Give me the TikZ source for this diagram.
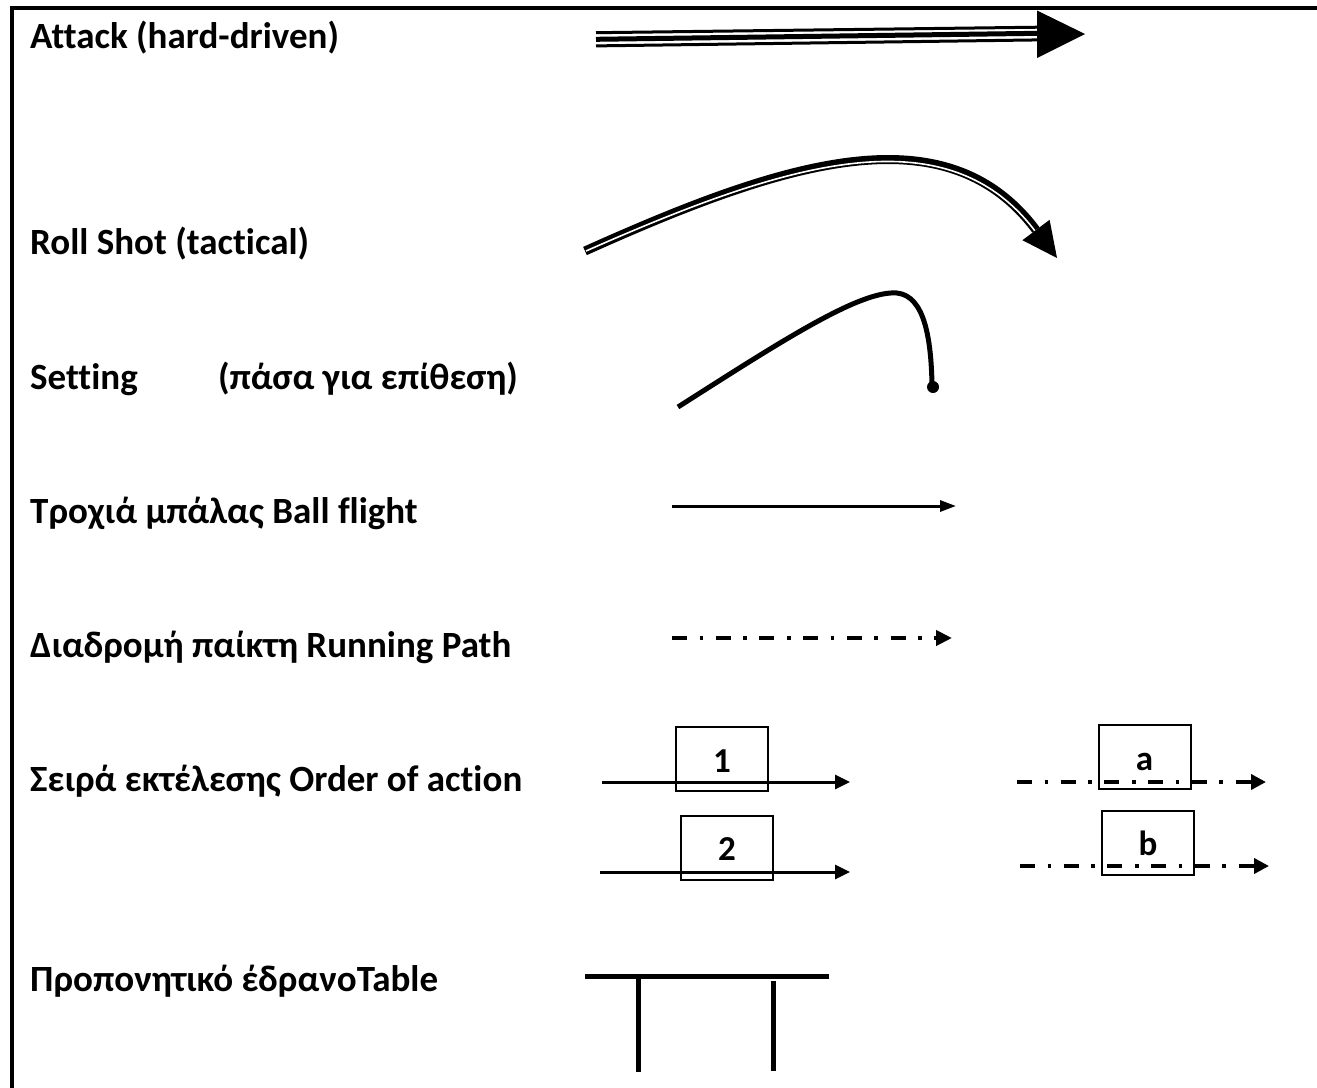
\documentclass[tikz,border=0pt]{standalone}
\usepackage{fontspec}
\setmainfont[RawFeature={-liga}]{Carlito}
\usetikzlibrary{arrows.meta}
\begin{document}
\begin{tikzpicture}[x=1pt,y=-1pt,
  lbl/.style={font=\fontsize{37}{44}\selectfont\bfseries, anchor=base west, inner sep=0pt},
  obox/.style={draw, line width=2pt, minimum width=92pt, minimum height=64pt, inner sep=0pt},
  otxt/.style={font=\fontsize{35}{42}\selectfont\bfseries, anchor=base, inner sep=0pt},
  dd/.style={line width=4pt, dash pattern=on 15pt off 12.5pt on 3.7pt off 12.5pt},
  solid arrow/.style={line width=3pt, -{Triangle[length=15pt,width=14pt]}},
  dd arrow/.style={dd, -{Triangle[length=15pt,width=15pt]}},
]
\useasboundingbox (0,0) rectangle (1317,1087);
% frame
\draw[line width=4pt] (12,1095) -- (12,8) -- (1325,8);

% labels
\node[lbl] (l1) at (30,48) {Attack (hard-driven)};
\node[lbl] (l2) at (30,254) {Roll Shot (tactical)};
\node[lbl] (l3) at (30,389) {Setting};
\node[lbl] (l3b) at (218,389) {(πάσα για επίθεση)};
\node[lbl] (l4) at (30,523) {Τροχιά μπάλας Ball flight};
\node[lbl] (l5) at (30,657) {Διαδρομή παίκτη Running Path};
\node[lbl] (l6) at (30,791) {Σειρά εκτέλεσης Order of action};
\node[lbl] (l7) at (30,991) {Προπονητικό έδρανοTable};

% Attack (hard-driven): triple line with big head
\coordinate (a0) at (596,39.3);
\coordinate (a1) at (1039,33.3);
\draw[line width=3pt] ([yshift=6.6pt]a0) -- ([yshift=6.1pt]a1);
\draw[line width=5pt] (a0) -- (a1);
\draw[line width=3pt] ([yshift=-6.6pt]a0) -- ([yshift=-6.6pt]a1);
\fill (1037,10.5) -- (1085,34) -- (1037,58) -- cycle;

% Roll shot
\coordinate (r0) at (585,251);
\coordinate (r1) at (1036,230);
\draw[line width=9pt] (r0) .. controls (785,161) and (946,110) .. (r1);
\draw[white, line width=1.6pt, yshift=-2.4pt, xshift=-0.6pt] ([xshift=1pt]r0) .. controls (785,161) and (946,110) .. ([xshift=-1pt,yshift=-1pt]r1);
\fill (1057,258) -- (1049.6,219.8) -- (1022.4,240.2) -- cycle;

% Setting
\coordinate (s0) at (678,407);
\coordinate (s1) at (897,293);
\coordinate (s2) at (932,384);
\draw[line width=5pt] (s0) .. controls (780,342) and (860,290) .. (s1) .. controls (925,296) and (931,340) .. (s2);
\fill (933,387) circle (6pt);

% Ball flight
\coordinate (b0) at (672,506);
\coordinate (b1) at (956,506);
\draw[line width=3pt, -{Triangle[length=16pt,width=11pt]}] (b0) -- (b1);

% Running path
\coordinate (p0) at (672,638);
\coordinate (p1) at (952,638);
\draw[dd, -{Triangle[length=16pt,width=15pt]}] (p0) -- (p1);

% Order of action
\node[obox] (n1) at (722,759) {};
\node[obox] (n2) at (727,848) {};
\node[obox] (na) at (1144.5,757) {};
\node[obox] (nb) at (1148,843) {};
\node[otxt] (t1) at (722,772) {1};
\node[otxt] (t2) at (727,860) {2};
\node[otxt] (ta) at (1144.5,770) {a};
\node[otxt] (tb) at (1148,855) {b};
\coordinate (o1s) at (602,782);
\coordinate (o1e) at (850,782);
\coordinate (o2s) at (600,872);
\coordinate (o2e) at (850,872);
\draw[solid arrow] (o1s) -- (o1e);
\draw[solid arrow] (o2s) -- (o2e);
\coordinate (oas) at (1017,782);
\coordinate (oae) at (1266,782);
\coordinate (obs) at (1020,866);
\coordinate (obe) at (1269,866);
\draw[dd arrow] (oas) -- (oae);
\draw[dd arrow] (obs) -- (obe);

% Table
\coordinate (tt0) at (585,976);
\coordinate (tt1) at (829,976);
\coordinate (tl0) at (638,976);
\coordinate (tl1) at (638,1072);
\coordinate (tr0) at (773,981);
\coordinate (tr1) at (773,1071);
\draw[line width=5pt] (tt0) -- (tt1);
\draw[line width=5pt] (tl0) -- (tl1);
\draw[line width=5pt] (tr0) -- (tr1);
\end{tikzpicture}
\end{document}
